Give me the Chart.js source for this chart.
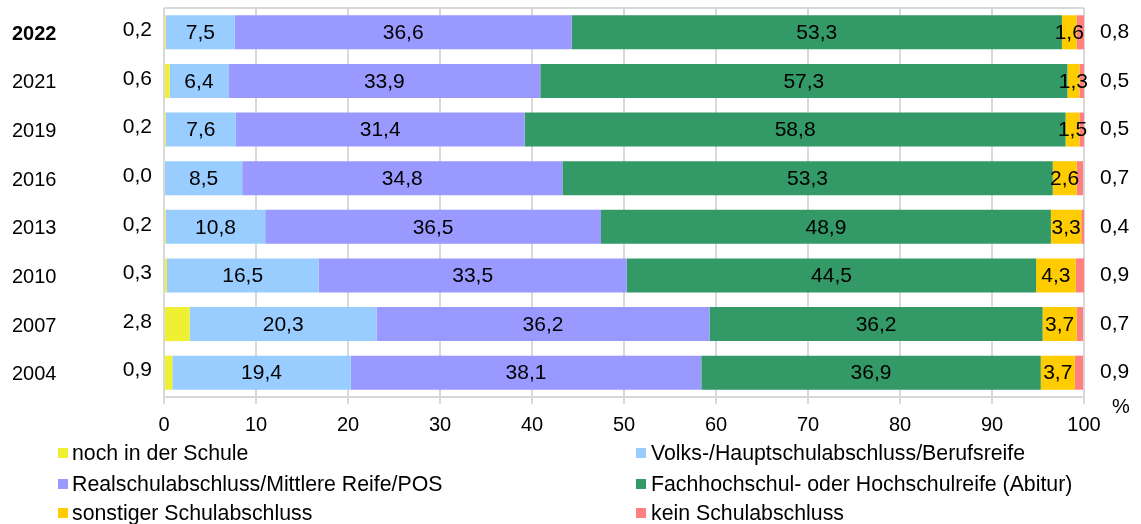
<!DOCTYPE html>
<html>
<head>
<meta charset="utf-8">
<script src="https://cdn.jsdelivr.net/npm/chart.js@4/dist/chart.umd.min.js"></script>
<style>
	html, body { margin: 0; padding: 0; background: #fff; }
	#wrap { width: 1141px; height: 524px; position: relative; }
</style>
</head>
<body>
<div id="wrap"><canvas id="barChart"></canvas></div>
<script>
// jahre (oben nach unten)
const years = ['2022', '2021', '2019', '2016', '2013', '2010', '2007', '2004'];

const nochInSchule = [0.2, 0.6, 0.2, 0.0, 0.2, 0.3, 2.8, 0.9];
const volksHaupt = [7.5, 6.4, 7.6, 8.5, 10.8, 16.5, 20.3, 19.4];
const realschule = [36.6, 33.9, 31.4, 34.8, 36.5, 33.5, 36.2, 38.1];
const abitur = [53.3, 57.3, 58.8, 53.3, 48.9, 44.5, 36.2, 36.9];
const sonstiger = [1.6, 1.3, 1.5, 2.6, 3.3, 4.3, 3.7, 3.7];
const keinAbschluss = [0.8, 0.5, 0.5, 0.7, 0.4, 0.9, 0.7, 0.9];

const xTicks = [0, 10, 20, 30, 40, 50, 60, 70, 80, 90, 100];

const seriesNames = [
	'noch in der Schule',
	'Volks-/Hauptschulabschluss/Berufsreife',
	'Realschulabschluss/Mittlere Reife/POS',
	'Fachhochschul- oder Hochschulreife (Abitur)',
	'sonstiger Schulabschluss',
	'kein Schulabschluss',
];
const seriesColors = ['#F0F032', '#99CCFF', '#9999FF', '#339966', '#FFCC00', '#FF8080'];

const FONT = '"Liberation Sans", Arial, sans-serif';
const fmt = (v) => v.toFixed(1).replace('.', ',');

// zahlen in den balken + links/rechts daneben, jahre, legende
const labelPlugin = {
	id: 'labels',
	afterDatasetsDraw(chart) {
		const ctx = chart.ctx;
		const area = chart.chartArea;
		ctx.save();
		// obere rahmenlinie
		ctx.strokeStyle = '#d9d9d9';
		ctx.lineWidth = 2;
		ctx.beginPath();
		ctx.moveTo(area.left, area.top);
		ctx.lineTo(area.right, area.top);
		ctx.stroke();

		ctx.fillStyle = '#000';
		ctx.textBaseline = 'middle';
		chart.data.datasets.forEach((ds, di) => {
			const meta = chart.getDatasetMeta(di);
			meta.data.forEach((bar, i) => {
				const v = ds.data[i];
				ctx.font = '21px ' + FONT;
				if (di === 0) {
					ctx.textAlign = 'right';
					ctx.fillText(fmt(v), 152, bar.y - 2);
				} else if (di === 5) {
					ctx.textAlign = 'left';
					ctx.fillText(fmt(v), 1100, bar.y);
				} else {
					ctx.textAlign = 'center';
					ctx.fillText(fmt(v), (bar.x + bar.base) / 2, bar.y + 1);
				}
			});
		});

		// jahre links
		const meta0 = chart.getDatasetMeta(0);
		years.forEach((y, i) => {
			ctx.textAlign = 'left';
			ctx.font = (i === 0 ? 'bold ' : '') + '20px ' + FONT;
			ctx.fillText(y, 12, meta0.data[i].y + 2);
		});

		// prozent zeichen
		ctx.font = '20px ' + FONT;
		ctx.textAlign = 'left';
		ctx.fillText('%', 1112, 407);

		// legende in zwei spalten
		const cols = [{ box: 58, text: 72 }, { box: 636, text: 651 }];
		const rows = [453, 484, 513];
		ctx.font = '21.3px ' + FONT;
		seriesNames.forEach((name, i) => {
			const col = cols[i % 2];
			const y = rows[Math.floor(i / 2)];
			ctx.fillStyle = seriesColors[i];
			ctx.fillRect(col.box, y - 5, 10, 10);
			ctx.fillStyle = '#000';
			ctx.fillText(name, col.text, y + 1);
		});
		ctx.restore();
	},
};

const allSeries = [nochInSchule, volksHaupt, realschule, abitur, sonstiger, keinAbschluss];

const data = {
	labels: years,
	datasets: allSeries.map((values, i) => ({
		label: seriesNames[i],
		data: values,
		backgroundColor: seriesColors[i],
		borderWidth: 0,
		categoryPercentage: 1,
		barPercentage: 0.7,
	})),
};

const options = {
	indexAxis: 'y',
	responsive: false,
	animation: false,
	layout: {
		padding: { left: 164, right: 57, top: 8, bottom: 78 },
	},
	plugins: {
		legend: { display: false },
		tooltip: { enabled: false },
	},
	scales: {
		x: {
			stacked: true,
			min: 0,
			max: 100,
			afterBuildTicks: (axis) => {
				axis.ticks = xTicks.map((v) => ({ value: v }));
			},
			grid: {
				color: '#d9d9d9',
				lineWidth: 2,
				tickLength: 7,
			},
			border: { color: '#d9d9d9', width: 2 },
			ticks: {
				color: '#000',
				font: { family: FONT, size: 20 },
				padding: 9,
				maxRotation: 0,
			},
		},
		y: {
			display: false,
			stacked: true,
		},
	},
};

const canvas = document.getElementById('barChart');
canvas.width = 1141;
canvas.height = 524;
new Chart(canvas.getContext('2d'), {
	type: 'bar',
	data,
	options,
	plugins: [labelPlugin],
});
</script>
</body>
</html>
